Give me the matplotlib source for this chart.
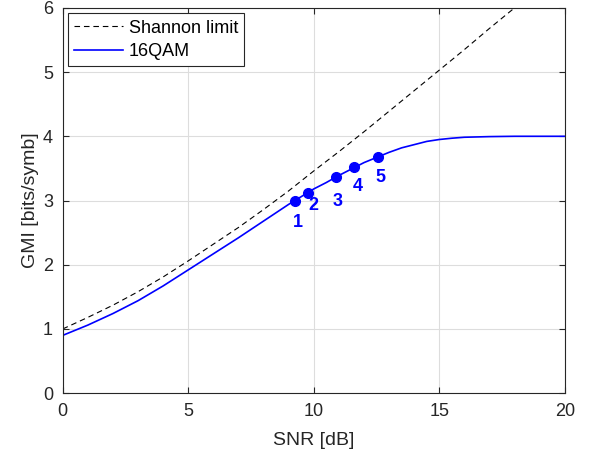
import matplotlib
matplotlib.use("Agg")
import matplotlib.pyplot as plt

plt.rcParams['font.family'] = ['Liberation Sans', 'DejaVu Sans']

snr_db = [0, 1, 2, 3, 4, 5, 6, 7, 8, 9, 10, 11, 12, 13, 14, 15, 16, 17, 18, 19, 20]
shannon = [1.00, 1.18, 1.37, 1.58, 1.81, 2.06, 2.32, 2.58, 2.86, 3.15, 3.46,
           3.76, 4.07, 4.39, 4.71, 5.03, 5.35, 5.68, 6.00, 6.33, 6.66]

qam_snr = [0, 1, 2, 3, 4, 5, 6, 7, 8, 9, 10, 10.5, 11, 11.5, 12, 12.5, 13, 13.5,
           14, 14.5, 15, 15.5, 16, 17, 18, 19, 20]
qam16 = [0.90, 1.06, 1.24, 1.44, 1.67, 1.92, 2.17, 2.42, 2.68, 2.94, 3.18, 3.28,
         3.39, 3.49, 3.59, 3.67, 3.75, 3.82, 3.87, 3.92, 3.95, 3.97, 3.985, 3.995,
         4.0, 4.0, 4.0]

pt_snr = [9.24, 9.76, 10.88, 11.59, 12.55]
pt_gmi = [3.00, 3.12, 3.36, 3.52, 3.68]
pt_labels = ['1', '2', '3', '4', '5']
label_off = [(2, -16), (4, -9), (1, -17), (3, -14), (2, -15)]

fig = plt.figure(figsize=(5.92, 4.62), dpi=100)
ax = fig.add_axes([0.106, 0.149, 0.848, 0.834])

ax.plot(snr_db, shannon, '--', color='black', lw=0.8, dashes=(5, 3.5), label='Shannon limit')
ax.plot(qam_snr, qam16, '-', color='blue', lw=1.2, label='16QAM')
ax.plot(pt_snr, pt_gmi, 'o', color='blue', ms=7, ls='none')
for x, y, t, (dx, dy) in zip(pt_snr, pt_gmi, pt_labels, label_off):
    ax.annotate(t, (x, y), xytext=(dx, dy), textcoords='offset points',
                ha='center', va='center', color='blue', fontweight='bold', fontsize=13)

ax.set_xlim(0, 20)
ax.set_ylim(0, 6)
ax.set_xticks([0, 5, 10, 15, 20])
ax.set_yticks([0, 1, 2, 3, 4, 5, 6])
ax.grid(True, color='#dddddd', lw=0.8)
ax.set_axisbelow(True)
ax.tick_params(direction='in', top=True, right=True, labelsize=13, colors='#262626',
               length=4, pad=7)
for s in ax.spines.values():
    s.set_color('#262626')
    s.set_linewidth(0.8)
ax.set_xlabel('SNR [dB]', fontsize=14, color='#262626', labelpad=9)
ax.set_ylabel('GMI [bits/symb]', fontsize=14, color='#262626', labelpad=3)
leg = ax.legend(loc='upper left', fontsize=13, fancybox=False, edgecolor='#262626',
                framealpha=1, handlelength=2.7, borderaxespad=0.3, borderpad=0.35,
                labelspacing=0.35, handletextpad=0.3)
leg.get_frame().set_linewidth(0.8)

fig.savefig('out.png', dpi=100)
